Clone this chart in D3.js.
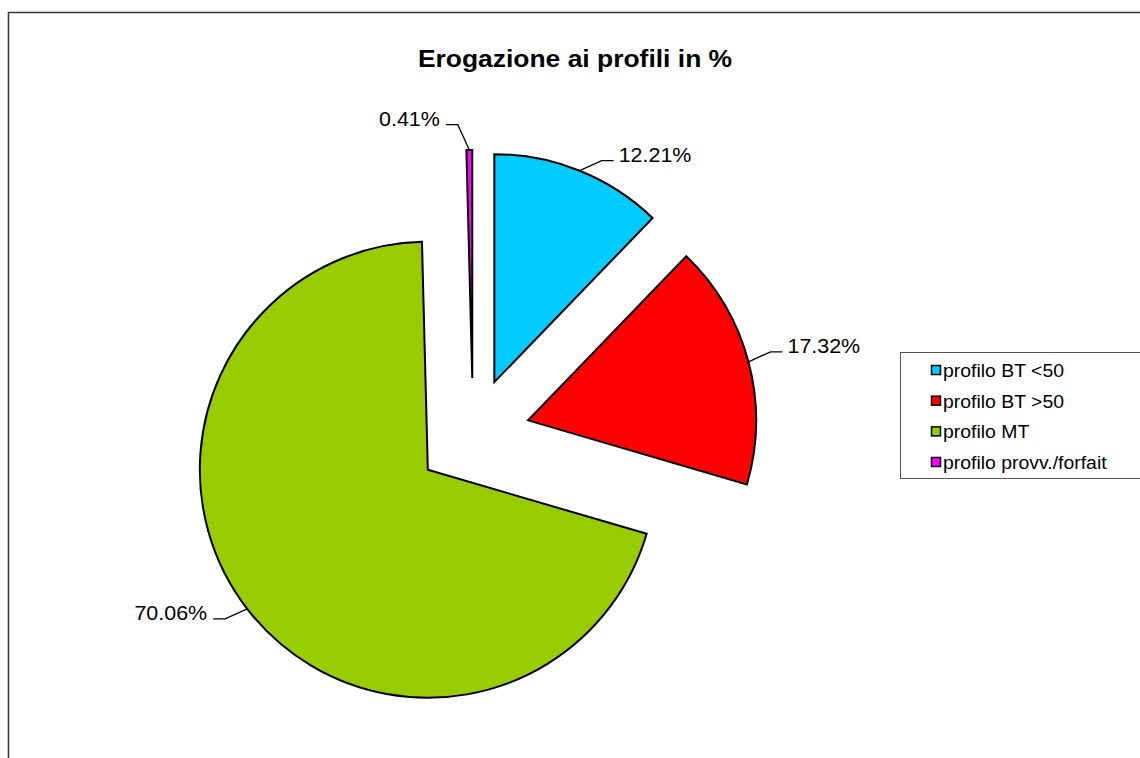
<!DOCTYPE html>
<html>
<head>
<meta charset="utf-8">
<script src="https://cdn.jsdelivr.net/npm/d3@7"></script>
<style>
  html, body { margin: 0; padding: 0; background: #fff; }
  svg { display: block; }
  text { font-family: Arial, "Liberation Sans", sans-serif; }
</style>
</head>
<body>
<svg id="chart" width="1140" height="758"></svg>
<script>
// ---- data ----
const categories = ["profilo BT <50", "profilo BT >50", "profilo MT", "profilo provv./forfait"];
const values = [12.21, 17.32, 70.06, 0.41];
const labels = ["12.21%", "17.32%", "70.06%", "0.41%"];
const colors = ["#00CCFF", "#FF0000", "#99CC00", "#FF00FF"];
const title = "Erogazione ai profili in %";

// ---- layout ----
const W = 1140, H = 758;
const cx = 473, cy = 435, R = 228, explode = 57;

const svg = d3.select("#chart");

// outer frame
svg.append("path")
  .attr("d", `M8.5,${H + 5} L8.5,12.5 L${W + 5},12.5`)
  .attr("fill", "none").attr("stroke", "#3a3a3a").attr("stroke-width", 1.6);

// title
svg.append("text")
  .attr("transform", `translate(575,67) scale(1.15,1)`)
  .attr("text-anchor", "middle")
  .attr("font-size", 23).attr("font-weight", "bold").attr("fill", "#000")
  .text(title);

const data = categories.map((c, i) => ({ cat: c, value: values[i], label: labels[i], color: colors[i] }));
const pie = d3.pie().sort(null).value(d => d.value).startAngle(0).endAngle(2 * Math.PI);
const arcs = pie(data);
const arc = d3.arc().innerRadius(0).outerRadius(R);

const g = svg.append("g").attr("transform", `translate(${cx},${cy})`);

arcs.forEach(a => {
  const mid = (a.startAngle + a.endAngle) / 2;
  a.mid = mid;
  a.off = [explode * Math.sin(mid), -explode * Math.cos(mid)];
});

g.selectAll("path.slice").data(arcs).enter().append("path")
  .attr("class", "slice")
  .attr("transform", d => `translate(${d.off[0]},${d.off[1]})`)
  .attr("d", arc)
  .attr("fill", d => d.data.color)
  .attr("stroke", "#000").attr("stroke-width", 2).attr("stroke-linejoin", "miter");

// labels with leader lines (leader bends toward the horizontal, steeper near the top/bottom)
arcs.forEach(a => {
  const s = Math.sin(a.mid), c = Math.cos(a.mid);
  const p0 = [a.off[0] + R * s, a.off[1] - R * c];
  const t = Math.min(1, Math.abs(s) / 0.3);
  const sx = s >= 0 ? 1 : -1, sy = c >= 0 ? -1 : 1;
  const p1 = [p0[0] + sx * (11 + 11 * t), p0[1] + sy * (10 + 16 * (1 - t))];
  const right = s >= 0;
  const p2 = [p1[0] + (right ? 12 : -12), p1[1]];
  g.append("path")
    .attr("d", `M${p0[0]},${p0[1]} L${p1[0]},${p1[1]} L${p2[0]},${p2[1]}`)
    .attr("fill", "none").attr("stroke", "#000").attr("stroke-width", 1.3);
  g.append("text")
    .attr("transform", `translate(${p2[0] + (right ? 5 : -6)},${p1[1] + 1}) scale(1.1,1)`)
    .attr("text-anchor", right ? "start" : "end")
    .attr("font-size", 19.5).attr("fill", "#000")
    .text(a.data.label);
});

// legend
const lg = svg.append("g").attr("transform", "translate(900,352)");
lg.append("rect")
  .attr("x", 0.5).attr("y", 0.5).attr("width", 300).attr("height", 126)
  .attr("fill", "#fff").attr("stroke", "#555").attr("stroke-width", 1);
const rowY = d3.scalePoint().domain(categories).range([18, 110]);
const items = lg.selectAll("g.item").data(data).enter().append("g")
  .attr("class", "item")
  .attr("transform", d => `translate(0,${rowY(d.cat)})`);
items.append("rect")
  .attr("x", 31.5).attr("y", -4.5).attr("width", 9).attr("height", 9)
  .attr("fill", d => d.color).attr("stroke", "#000").attr("stroke-width", 1.5);
items.append("text")
  .attr("transform", "translate(43,7) scale(1.05,1)")
  .attr("font-size", 18.5).attr("fill", "#000")
  .text(d => d.cat);
</script>
</body>
</html>
